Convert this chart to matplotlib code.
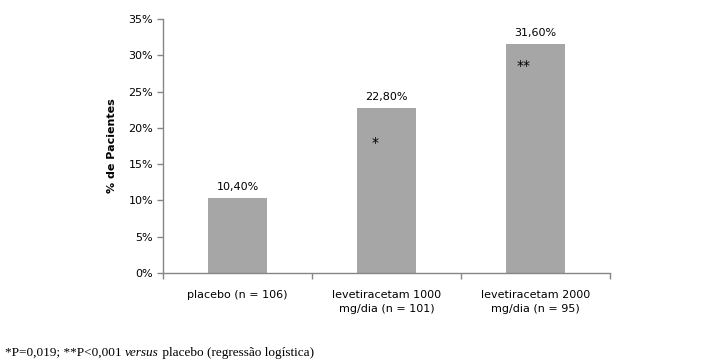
import matplotlib
matplotlib.use('Agg')
import matplotlib.pyplot as plt
from matplotlib.ticker import FuncFormatter, FixedLocator

# data
categories = ['placebo (n = 106)', 'levetiracetam 1000\nmg/dia (n = 101)', 'levetiracetam 2000\nmg/dia (n = 95)']
values = [10.4, 22.8, 31.6]
value_labels = ['10,40%', '22,80%', '31,60%']
marks = ['', '*', '**']
mark_y = [0, 17.9, 28.5]

bar_color = '#a6a6a6'
axis_color = '#868686'

fig = plt.figure(figsize=(7.08, 3.64), dpi=100)
ax = fig.add_axes([163 / 708, 1 - 273 / 364, (610 - 163) / 708, (273 - 19) / 364])

x = list(range(len(categories)))
ax.bar(x, values, width=0.40, color=bar_color, zorder=2)

for xi, v, lab in zip(x, values, value_labels):
    ax.text(xi, v + 0.8, lab, ha='center', va='bottom', fontsize=8, color='black')
for xi, m, my in zip(x, marks, mark_y):
    if m:
        ax.text(xi - 0.08, my, m, ha='center', va='center', fontsize=10, color='black')

ax.set_xlim(-0.5, 2.5)
ax.set_ylim(0, 35)
ax.set_yticks(range(0, 36, 5))
ax.yaxis.set_major_formatter(FuncFormatter(lambda v, p: '%d%%' % v))
ax.set_xticks(x)
ax.set_xticklabels(categories, fontsize=8, linespacing=1.5)
ax.tick_params(axis='x', length=0, pad=12)
ax.xaxis.set_minor_locator(FixedLocator([-0.5, 0.5, 1.5, 2.5]))
ax.tick_params(axis='x', which='minor', length=4, color=axis_color, width=1)
ax.tick_params(axis='y', labelsize=8, length=4, color=axis_color, width=1, pad=3)

for s in ['top', 'right']:
    ax.spines[s].set_visible(False)
for s in ['left', 'bottom']:
    ax.spines[s].set_color(axis_color)
    ax.spines[s].set_linewidth(1)

ax.set_ylabel('% de Pacientes', fontsize=8, fontweight='bold', labelpad=8)

# footnote with italic "versus"
fig.canvas.draw()
renderer = fig.canvas.get_renderer()
pieces = [('*P=0,019; **P<0,001 ', 'normal'), ('versus', 'italic'), (' placebo (regressão logística)', 'normal')]
xpos = 5 / 708
for txt, style in pieces:
    t = fig.text(xpos, 1 - 353 / 364, txt, fontsize=9.5, family='Liberation Serif',
                 style=style, va='center', ha='left')
    bb = t.get_window_extent(renderer=renderer)
    xpos += bb.width / fig.bbox.width

fig.savefig('out.png', dpi=100)
